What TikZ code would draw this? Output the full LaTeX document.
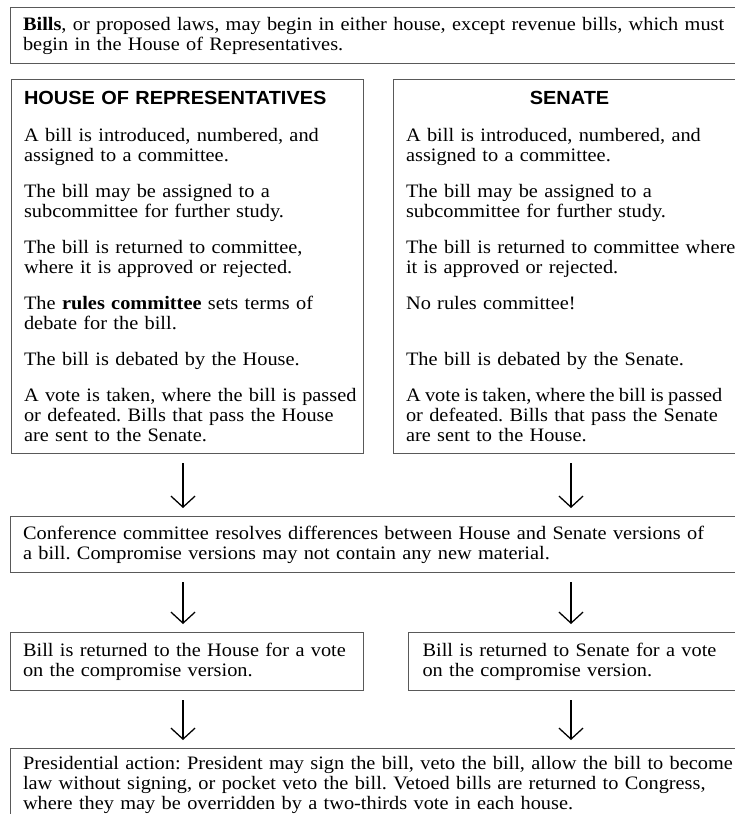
\documentclass[tikz,border=0pt]{standalone}
\usepackage{fontspec}
\setmainfont{Liberation Serif}[FakeStretch=1.07]
\setsansfont{Liberation Sans}[FakeStretch=1.05]
\usetikzlibrary{arrows.meta}
\frenchspacing
\def\hdr{\sffamily\bfseries}
\def\tight{\spaceskip=.85\fontdimen2\font plus .1\fontdimen2\font}
\tikzset{
	stage/.style={draw=black!65, line width=0.4mm, anchor=north west, align=left, inner xsep=12.5pt, inner ysep=0pt, font=\fontsize{19}{20}\selectfont},
	flow/.style={-{Straight Barb[length=11pt,width=24pt]}, line width=0.45mm, shorten <=9pt, shorten >=8pt}
}

\begin{document}
\begin{tikzpicture}[x=1pt, y=-1pt]
		%%%%% START %%%%%
		\useasboundingbox (0, 0) rectangle (735, 814);
		\clip (0, 0) rectangle (735, 814);
		
		\node[stage, text width=725pt, minimum height=56pt] (intro) at (10, 7)
			{\textbf{Bills}, or proposed laws, may begin in either house, except revenue bills, which must\\
			begin in the House of Representatives.};
		
		\node[stage, text width=327pt, minimum height=374pt] (house) at (11, 79)
			{{\hdr HOUSE OF REPRESENTATIVES}\\[17pt]
			A bill is introduced, numbered, and\\
			assigned to a committee.\\[16pt]
			The bill may be assigned to a\\
			subcommittee for further study.\\[16pt]
			The bill is returned to committee,\\
			where it is approved or rejected.\\[16pt]
			The \textbf{rules committee} sets terms of\\
			debate for the bill.\\[16pt]
			The bill is debated by the House.\\[16pt]
			\mbox{A vote is taken, where the bill is passed}\\
			or defeated. Bills that pass the House\\
			are sent to the Senate.};
		
		\node[stage, text width=327pt, minimum height=374pt] (senate) at (393, 79)
			{\makebox[\linewidth][c]{\hdr SENATE}\\[17pt]
			A bill is introduced, numbered, and\\
			assigned to a committee.\\[16pt]
			The bill may be assigned to a\\
			subcommittee for further study.\\[16pt]
			\mbox{The bill is returned to committee where}\\
			it is approved or rejected.\\[16pt]
			No rules committee!\\[36pt]
			The bill is debated by the Senate.\\[16pt]
			\mbox{\tight A vote is taken, where the bill is passed}\\
			or defeated. Bills that pass the Senate\\
			are sent to the House.};
		
		\node[stage, text width=725pt, minimum height=56pt] (conf) at (10, 516)
			{Conference committee resolves differences between House and Senate versions of\\
			a bill. Compromise versions may not contain any new material.};
		
		\node[stage, text width=328pt, minimum height=58pt] (hvote) at (10, 632)
			{Bill is returned to the House for a vote\\
			on the compromise version.};
		\node[stage, text width=325pt, minimum height=58pt, inner xsep=14pt] (svote) at (408, 632)
			{Bill is returned to Senate for a vote\\
			on the compromise version.};
		
		\node[stage, text width=725pt, minimum height=72pt] (pres) at (10, 748)
			{Presidential action: President may sign the bill, veto the bill, allow the bill to become\\
			law without signing, or pocket veto the bill. Vetoed bills are returned to Congress,\\
			where they may be overridden by a two-thirds vote in each house.};
		
		\coordinate (lx) at (183, 0);
		\coordinate (rx) at (571, 0);
		
		\draw[flow] (house.south -| lx) -- (conf.north -| lx);
		\draw[flow] (senate.south -| rx) -- (conf.north -| rx);
		\draw[flow] (conf.south -| lx) -- (hvote.north -| lx);
		\draw[flow] (conf.south -| rx) -- (svote.north -| rx);
		\draw[flow] (hvote.south -| lx) -- (pres.north -| lx);
		\draw[flow] (svote.south -| rx) -- (pres.north -| rx);
		
		%%%%% END %%%%%
\end{tikzpicture}
\end{document}
